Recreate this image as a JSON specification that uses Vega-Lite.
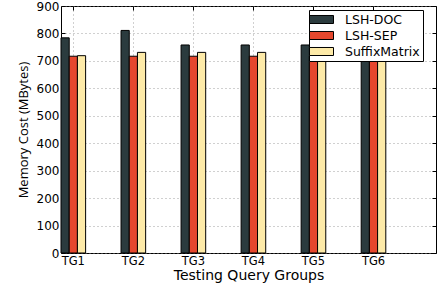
{
  "$schema": "https://vega.github.io/schema/vega-lite/v6.json",
  "width": 375,
  "height": 247,
  "autosize": "none",
  "padding": {"left": 61, "top": 6, "right": 1, "bottom": 33},
  "background": "white",
  "config": {
    "view": {"stroke": "black", "strokeWidth": 1},
    "axis": {
      "domain": false,
      "labelFont": "DejaVu Sans",
      "labelColor": "black",
      "titleColor": "black",
      "titleFontWeight": "normal",
      "tickColor": "black",
      "tickSize": -4,
      "gridColor": "#888888",
      "gridDash": [1, 3],
      "gridWidth": 0.8
    }
  },
  "data": {
    "values": [
      {"group": "TG1", "method": "LSH-DOC", "value": 784},
      {"group": "TG1", "method": "LSH-SEP", "value": 717},
      {"group": "TG1", "method": "SuffixMatrix", "value": 719},
      {"group": "TG2", "method": "LSH-DOC", "value": 811},
      {"group": "TG2", "method": "LSH-SEP", "value": 717},
      {"group": "TG2", "method": "SuffixMatrix", "value": 731},
      {"group": "TG3", "method": "LSH-DOC", "value": 758},
      {"group": "TG3", "method": "LSH-SEP", "value": 717},
      {"group": "TG3", "method": "SuffixMatrix", "value": 731},
      {"group": "TG4", "method": "LSH-DOC", "value": 758},
      {"group": "TG4", "method": "LSH-SEP", "value": 717},
      {"group": "TG4", "method": "SuffixMatrix", "value": 731},
      {"group": "TG5", "method": "LSH-DOC", "value": 758},
      {"group": "TG5", "method": "LSH-SEP", "value": 717},
      {"group": "TG5", "method": "SuffixMatrix", "value": 731},
      {"group": "TG6", "method": "LSH-DOC", "value": 758},
      {"group": "TG6", "method": "LSH-SEP", "value": 717},
      {"group": "TG6", "method": "SuffixMatrix", "value": 731}
    ]
  },
  "resolve": {"axis": {"x": "independent", "y": "independent"}},
  "layer": [
    {
      "mark": {"type": "bar", "stroke": "black", "strokeWidth": 1},
      "encoding": {
        "x": {
          "field": "group",
          "type": "nominal",
          "scale": {"paddingInner": 0.59, "paddingOuter": 0.418, "align": 0},
          "axis": {
            "title": "Testing Query Groups",
            "titleFont": "DejaVu Sans",
            "titleFontSize": 14,
            "titlePadding": 2,
            "labelAngle": 0,
            "labelFontSize": 11.5,
            "labelPadding": 6,
            "grid": true
          }
        },
        "xOffset": {
          "field": "method",
          "type": "nominal",
          "scale": {"paddingInner": 0, "paddingOuter": 0}
        },
        "y": {
          "field": "value",
          "type": "quantitative",
          "scale": {"domain": [0, 900], "nice": false},
          "axis": {
            "title": "Memory Cost (MBytes)",
            "titleFont": "Open Sans",
            "titleFontSize": 13,
            "titlePadding": 6,
            "values": [0, 100, 200, 300, 400, 500, 600, 700, 800, 900],
            "labelFontSize": 12,
            "labelPadding": 6,
            "grid": true
          }
        },
        "fill": {
          "field": "method",
          "type": "nominal",
          "scale": {
            "domain": ["LSH-DOC", "LSH-SEP", "SuffixMatrix"],
            "range": ["#2b3b3e", "#e5472d", "#fdeaa8"]
          },
          "legend": {
            "title": null,
            "orient": "none",
            "legendX": 248,
            "legendY": 4,
            "fillColor": "white",
            "strokeColor": "black",
            "padding": 3,
            "rowPadding": 3,
            "symbolOffset": 3,
            "symbolType": "M-2,-0.667H2V0.667H-2Z",
            "symbolSize": 144,
            "symbolStrokeColor": "black",
            "symbolStrokeWidth": 1,
            "symbolOpacity": 1,
            "labelFont": "DejaVu Sans",
            "labelFontSize": 12.5,
            "labelColor": "black",
            "labelOffset": 17,
            "labelLimit": 200
          }
        }
      }
    },
    {
      "mark": {"type": "bar", "opacity": 0},
      "encoding": {
        "x": {
          "field": "group",
          "type": "nominal",
          "axis": {"orient": "top", "labels": false, "title": null, "grid": false}
        },
        "xOffset": {"field": "method", "type": "nominal"},
        "y": {
          "field": "value",
          "type": "quantitative",
          "axis": {
            "orient": "right",
            "labels": false,
            "title": null,
            "grid": false,
            "values": [0, 100, 200, 300, 400, 500, 600, 700, 800, 900]
          }
        }
      }
    }
  ]
}
